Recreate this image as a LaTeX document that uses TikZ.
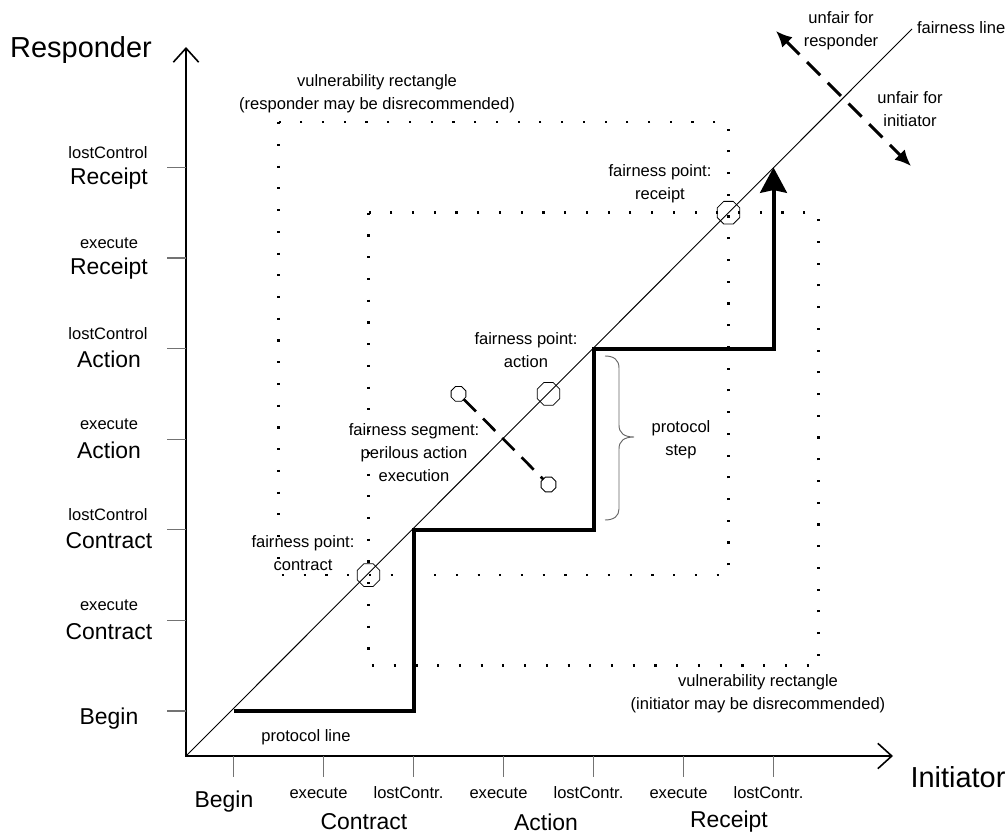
\documentclass[tikz,border=0pt]{standalone}
\usepackage{fontspec}
\setmainfont{Liberation Sans}
\usetikzlibrary{arrows.meta,shapes.geometric}

\begin{document}
\begin{tikzpicture}[x=0.75pt,y=-0.75pt,
  every node/.style={inner sep=0pt, outer sep=0pt},
  small/.style={font=\fontsize{12.4}{17.2}\selectfont, align=center},
  big/.style={font=\fontsize{17.2}{20}\selectfont},
  axisname/.style={font=\fontsize{21.7}{25}\selectfont},
  axisline/.style={line width=1.2pt,
    {Straight Barb[length=10.5pt,width=19pt]}-{Straight Barb[length=10.5pt,width=19pt]}},
  tickmark/.style={draw=black!55, line width=0.8pt},
  fairline/.style={line width=0.7pt},
  protocol/.style={line width=3pt, -{Stealth[length=19pt,width=20pt,inset=2pt]}},
  vuln/.style={line width=1.9pt, dash pattern=on 1.6pt off 14.7pt},
  fpoint/.style={draw, regular polygon, regular polygon sides=8, minimum size=18.4pt, line width=0.6pt},
  segend/.style={draw, regular polygon, regular polygon sides=8, minimum size=12pt, line width=0.6pt},
  segline/.style={line width=2pt, dash pattern=on 13pt off 7.5pt},
  unfair/.style={line width=2.2pt, dash pattern=on 14pt off 8pt,
    {Latex[length=12pt,width=11pt]}-{Latex[length=12pt,width=11pt]}},
  bracestyle/.style={draw=black!60, line width=0.7pt},
]
\useasboundingbox (0,0) rectangle (1008,835);

% axes
\coordinate (O) at (186,756);
\coordinate (ytop) at (186,47);
\coordinate (xend) at (893,756);
\draw[axisline] (ytop) -- (O) -- (xend);

% axis ticks
\foreach \y in {711,620.4,529.8,439.2,348.6,258,167.4}
  \draw[tickmark] (167,\y) -- (186,\y);
\foreach \x in {233.5,323.5,413.5,503.5,593.5,683.5,773.5}
  \draw[tickmark] (\x,756) -- (\x,777);

% axis names
\node[axisname] (resp) at (81,50) {Responder};
\node[axisname] (init) at (958,777) {Initiator};

% responder axis labels
\node[small] (lcR) at (108,152.4) {lostControl};
\node[big]   (lcRb) at (109,178.4) {Receipt};
\node[small] (exR) at (109,243) {execute};
\node[big]   (exRb) at (109,269) {Receipt};
\node[small] (lcA) at (108,333.6) {lostControl};
\node[big]   (lcAb) at (109,359.6) {Action};
\node[small] (exA) at (109,424.2) {execute};
\node[big]   (exAb) at (109,450.2) {Action};
\node[small] (lcC) at (108,514.8) {lostControl};
\node[big]   (lcCb) at (109,540.8) {Contract};
\node[small] (exC) at (109,605.4) {execute};
\node[big]   (exCb) at (109,631.4) {Contract};
\node[big]   (rBegin) at (109,719) {Begin};

% initiator axis labels
\node[big]   (iBegin) at (224,802) {Begin};
\node[small] (ix1) at (318.5,793) {execute};
\node[small] (il1) at (408.5,793) {lostContr.};
\node[small] (ix2) at (498.5,793) {execute};
\node[small] (il2) at (588.5,793) {lostContr.};
\node[small] (ix3) at (678.5,793) {execute};
\node[small] (il3) at (768.5,793) {lostContr.};
\node[big]   (iC) at (364,822) {Contract};
\node[big]   (iA) at (546,822) {Action};
\node[big]   (iR) at (729,822) {Receipt};

% vulnerability rectangles
\draw[vuln] (278.5,122.1) rectangle (728.5,575.1);
\draw[vuln] (368.5,212.7) rectangle (818.5,665.7);
\node[small] (vr1) at (377,94) {vulnerability rectangle\\(responder may be disrecommended)};
\node[small] (vr2) at (758,694) {vulnerability rectangle\\(initiator may be disrecommended)};

% fairness line
\coordinate (fl) at (912,29);
\draw[fairline] (O) -- (fl);
\node[small, anchor=west] (fltxt) at (917,28) {fairness line};

% protocol line
\coordinate (s0) at (233.5,711);
\coordinate (s1) at (413.5,711);
\coordinate (s2) at (413.5,529.8);
\coordinate (s3) at (593.5,529.8);
\coordinate (s4) at (593.5,348.6);
\coordinate (s5) at (773.5,348.6);
\coordinate (s6) at (773.5,167.4);
\draw[protocol] (s0) -- (s1) -- (s2) -- (s3) -- (s4) -- (s5) -- (s6);
\node[small] (pl) at (306,737) {protocol line};

% fairness points
\node[fpoint] (fpc) at (368.5,575.1) {};
\node[fpoint] (fpa) at (548.5,393.9) {};
\node[fpoint] (fpr) at (728.5,212.7) {};
\node[small] (fpctxt) at (303,553) {fairness point:\\contract};
\node[small] (fpatxt) at (526,350) {fairness point:\\action};
\node[small] (fprtxt) at (660,184) {fairness point:\\receipt};

% fairness segment
\node[segend] (sg1) at (458.5,393.9) {};
\node[segend] (sg2) at (548.5,484.5) {};
\draw[segline] (sg1) -- (sg2);
\node[small] (sgtxt) at (414,453) {fairness segment:\\perilous action\\execution};

% protocol step brace
\draw[bracestyle] (605,356) .. controls (614,356) and (619,360) .. (619,368) -- (619,425)
  .. controls (619,433) and (624,437) .. (634,437)
  .. controls (624,437) and (619,441) .. (619,449) -- (619,509)
  .. controls (619,516) and (614,520) .. (605,520);
\node[small] (pstep) at (681,440) {protocol\\step};

% unfairness directions
\coordinate (uf1) at (776,31);
\coordinate (uf2) at (911,166);
\draw[unfair] (uf1) -- (uf2);
\node[small] (ufr) at (841,31) {unfair for\\responder};
\node[small] (ufi) at (910,109) {unfair for\\initiator};
\end{tikzpicture}
\end{document}
